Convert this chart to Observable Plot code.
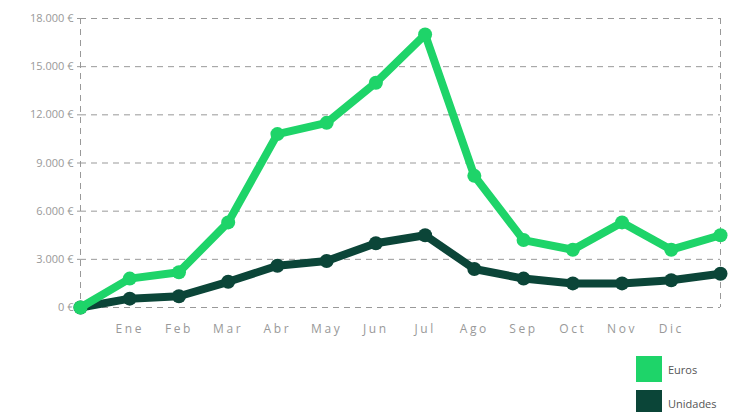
<!DOCTYPE html>
<html>
<head>
<meta charset="utf-8">
<script src="https://cdn.jsdelivr.net/npm/d3@7"></script>
<script src="https://cdn.jsdelivr.net/npm/@observablehq/plot@0.6"></script>
<style>
  body { margin: 0; background: #fff; font-family: "Open Sans", sans-serif; }
  #wrap { position: relative; width: 736px; height: 412px; overflow: hidden; }
  g[aria-label="x-axis tick label"] text { letter-spacing: 2.6px; }
  .legend { position: absolute; left: 636px; top: 356px; font-size: 11px; color: #555; }
  .item { display: flex; align-items: center; height: 26px; margin-bottom: 8px; }
  .sw { width: 26px; height: 26px; margin-right: 6px; }
</style>
</head>
<body>
<div id="wrap"></div>
<script>
const months = ["", "Ene", "Feb", "Mar", "Abr", "May", "Jun", "Jul", "Ago", "Sep", "Oct", "Nov", "Dic", ""];
const euros = [0, 1800, 2200, 5300, 10800, 11500, 14000, 17000, 8200, 4200, 3600, 5300, 3600, 4500];
const unidades = [0, 550, 700, 1600, 2600, 2900, 4000, 4500, 2400, 1800, 1500, 1500, 1700, 2100];
const yTicks = [0, 3000, 6000, 9000, 12000, 15000, 18000];
const seriesNames = ["Euros", "Unidades"];
const colors = ["#1ed469", "#0b4538"];

const idx = months.map((_, i) => i);
const dEuros = idx.map(i => ({i, v: euros[i]}));
const dUnid = idx.map(i => ({i, v: unidades[i]}));
const fmt = d => d3.format(",")(d).replace(/,/g, ".") + " €";

const chart = Plot.plot({
  width: 736, height: 345,
  marginLeft: 80, marginRight: 16, marginTop: 18, marginBottom: 38,
  style: {fontFamily: "'Open Sans', sans-serif", background: "transparent"},
  x: {domain: [0, months.length - 1], axis: null},
  y: {domain: [0, 18000], axis: null},
  marks: [
    Plot.ruleY(yTicks, {stroke: "#999", strokeDasharray: "6,5", strokeWidth: 1}),
    Plot.ruleX([0, months.length - 1], {stroke: "#999", strokeDasharray: "6,5", strokeWidth: 1}),
    Plot.axisY({ticks: yTicks, tickFormat: fmt, tickSize: 3, tickPadding: 4, fontSize: 11, color: "#999", label: null}),
    Plot.axisX({ticks: d3.range(1, months.length - 1), tickFormat: i => months[i], tickSize: 0, tickPadding: 17, fontSize: 12, color: "#999", label: null}),
    Plot.line(dUnid, {x: "i", y: "v", stroke: colors[1], strokeWidth: 8, strokeLinejoin: "round", strokeLinecap: "round"}),
    Plot.dot(dUnid, {x: "i", y: "v", r: 7, fill: colors[1]}),
    Plot.line(dEuros, {x: "i", y: "v", stroke: colors[0], strokeWidth: 8, strokeLinejoin: "round", strokeLinecap: "round"}),
    Plot.dot(dEuros, {x: "i", y: "v", r: 7, fill: colors[0]})
  ]
});
const wrap = document.getElementById("wrap");
wrap.appendChild(chart);

const legend = document.createElement("div");
legend.className = "legend";
seriesNames.forEach((n, k) => {
  const it = document.createElement("div");
  it.className = "item";
  it.innerHTML = `<div class="sw" style="background:${colors[k]}"></div><span>${n}</span>`;
  legend.appendChild(it);
});
wrap.appendChild(legend);
</script>
</body>
</html>
